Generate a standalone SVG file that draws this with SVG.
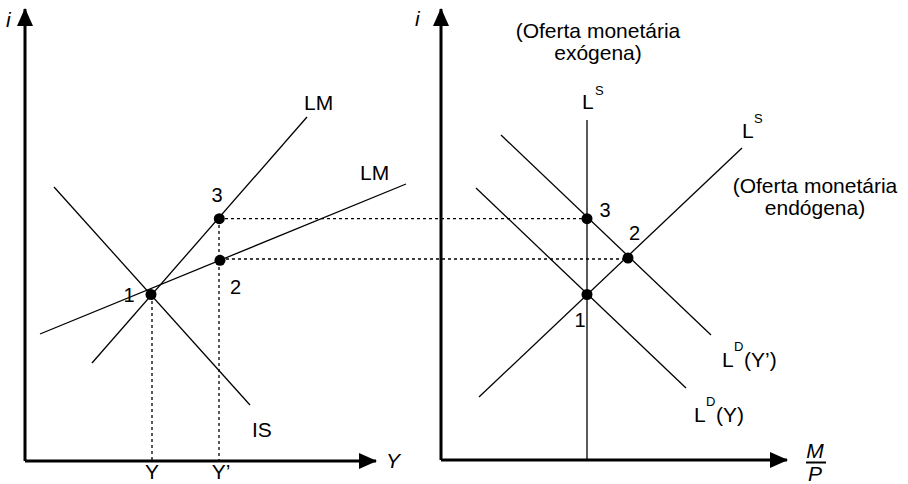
<svg xmlns="http://www.w3.org/2000/svg" width="908" height="484" viewBox="0 0 908 484">
<style>
text{font-family:"Liberation Sans",Arial,sans-serif;fill:#000}
.t{font-size:21px}
.n{font-size:20px;text-anchor:middle}
.sup{font-size:13px}
.it{font-style:italic;font-size:21px}
.ax{stroke:#000;stroke-width:3;fill:none}
.cv{stroke:#000;stroke-width:1.3;fill:none}
.dt{stroke:#000;stroke-width:1.3;stroke-dasharray:3 3;fill:none}
.dot{fill:#000}
</style>
<defs>
<marker id="ah" viewBox="0 0 18 16" refX="17" refY="8" markerWidth="18" markerHeight="16" markerUnits="userSpaceOnUse" orient="auto">
<path d="M0,0 L18,8 L0,16 Z" fill="#000"/>
</marker>
</defs>

<g id="left-axes">
<line class="ax" x1="25" y1="461" x2="25" y2="9" marker-end="url(#ah)"/>
<line class="ax" x1="25" y1="461" x2="376" y2="461" marker-end="url(#ah)"/>
<text class="it" x="6" y="27">i</text>
<text class="it" x="386" y="468">Y</text>
<text class="t" x="152" y="479" text-anchor="middle">Y</text>
<text class="t" x="221" y="479" text-anchor="middle">Y’</text>
</g>

<g id="right-axes">
<line class="ax" x1="441" y1="460" x2="441" y2="9" marker-end="url(#ah)"/>
<line class="ax" x1="441" y1="460" x2="787" y2="460" marker-end="url(#ah)"/>
<text class="it" x="415" y="26">i</text>
<text class="it" x="815" y="458" text-anchor="middle">M</text>
<line x1="806" y1="462.5" x2="826" y2="462.5" stroke="#000" stroke-width="2"/>
<text class="it" x="815" y="481" text-anchor="middle">P</text>
</g>

<g id="connectors">
<line class="dt" x1="152" y1="295" x2="152" y2="460"/>
<line class="dt" x1="219" y1="219" x2="219" y2="460"/>
<line class="dt" x1="219" y1="218.7" x2="587" y2="218.7"/>
<line class="dt" x1="220" y1="259" x2="628" y2="259"/>
</g>

<g id="IS">
<line class="cv" x1="54" y1="187" x2="250" y2="405"/>
<text class="t" x="252" y="437">IS</text>
</g>

<g id="LM-steep">
<line class="cv" x1="92" y1="363" x2="307" y2="117"/>
<text class="t" x="304" y="110">LM</text>
</g>

<g id="LM-flat">
<line class="cv" x1="40" y1="334" x2="406" y2="184"/>
<text class="t" x="360" y="180">LM</text>
</g>

<g id="left-points">
<circle class="dot" cx="151" cy="294.5" r="5.5"/>
<circle class="dot" cx="219.3" cy="218.7" r="5.5"/>
<circle class="dot" cx="220" cy="260.3" r="5.5"/>
<text class="n" x="129" y="302">1</text>
<text class="n" x="217" y="202">3</text>
<text class="n" x="235.5" y="294">2</text>
</g>

<g id="LS-exogenous">
<line class="cv" x1="587" y1="120" x2="587" y2="460"/>
<text class="t" x="582" y="109">L</text>
<text class="sup" x="595" y="95">S</text>
<text class="t" x="598" y="38" text-anchor="middle">(Oferta monetária</text>
<text class="t" x="598" y="60" text-anchor="middle">exógena)</text>
</g>

<g id="LS-endogenous">
<line class="cv" x1="479" y1="397" x2="742" y2="148"/>
<text class="t" x="742" y="138">L</text>
<text class="sup" x="754" y="123">S</text>
<text class="t" x="815" y="193" text-anchor="middle">(Oferta monetária</text>
<text class="t" x="815" y="215" text-anchor="middle">endógena)</text>
</g>

<g id="LD-Y">
<line class="cv" x1="476" y1="188" x2="686" y2="388"/>
<text class="t" x="694" y="422">L</text>
<text class="sup" x="706" y="406">D</text>
<text class="t" x="716" y="422">(Y)</text>
</g>

<g id="LD-Yprime">
<line class="cv" x1="501" y1="135" x2="711" y2="335"/>
<text class="t" x="722" y="367">L</text>
<text class="sup" x="734" y="351">D</text>
<text class="t" x="744" y="367">(Y’)</text>
</g>

<g id="right-points">
<circle class="dot" cx="587" cy="294.5" r="5.5"/>
<circle class="dot" cx="587" cy="218.7" r="5.5"/>
<circle class="dot" cx="628" cy="258" r="5.5"/>
<text class="n" x="580" y="327">1</text>
<text class="n" x="605" y="217">3</text>
<text class="n" x="634.5" y="240">2</text>
</g>
</svg>
